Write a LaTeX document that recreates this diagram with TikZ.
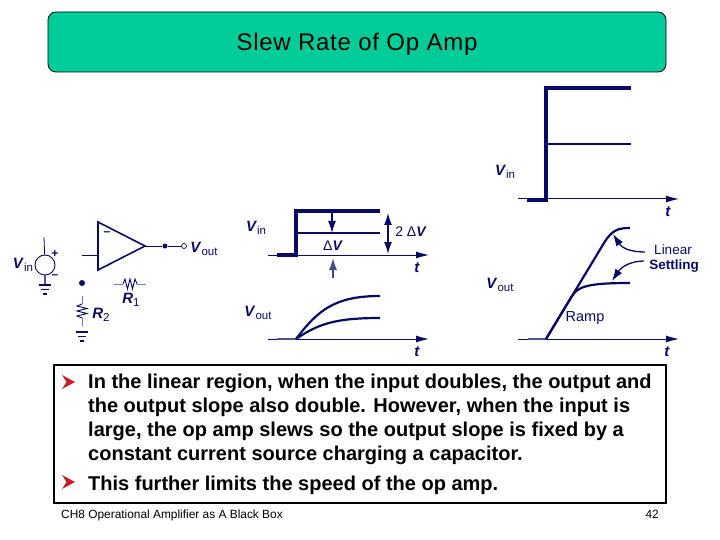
\documentclass[tikz,border=0pt]{standalone}
\usepackage{fontspec}
\setmainfont{Liberation Sans}
\usepackage{tikz}
\usetikzlibrary{arrows.meta, positioning, calc}
\definecolor{slidegreen}{RGB}{0,204,153}
\definecolor{inkblue}{RGB}{10,10,100}
\definecolor{bulletred}{RGB}{200,30,40}
\tikzset{
  wire/.style={inkblue, line width=0.8pt},
  thinwire/.style={inkblue!55, line width=0.7pt},
  wave/.style={inkblue, line width=2.6pt},
  curve/.style={inkblue, line width=2.2pt},
  heavy/.style={inkblue, line width=3.2pt},
  axis/.style={inkblue, line width=1pt, -{Latex[length=13pt,width=7pt]}},
  pointer/.style={inkblue, line width=1.3pt, -{Latex[length=12pt,width=8pt]}},
  dimline/.style={inkblue, line width=1.3pt, {Latex[length=12pt,width=8pt]}-{Latex[length=12pt,width=8pt]}},
  vlabel/.style={inkblue, font=\fontsize{15}{15}\selectfont\bfseries},
  txt/.style={inkblue, font=\fontsize{12}{12}\selectfont\bfseries},
  body/.style={anchor=base west, font=\fontsize{20}{24}\selectfont\bfseries, align=left, inner sep=0pt, text=black},
  dotnode/.style={circle, fill=inkblue, inner sep=0pt, minimum size=5pt},
  opendot/.style={circle, draw=inkblue, fill=white, line width=0.7pt, inner sep=0pt, minimum size=5pt},
  gbar/.style={inkblue, line width=1.6pt}
}
\newcommand{\vlab}[2]{\textit{#1}\raisebox{-3pt}{\fontsize{11.5}{12}\selectfont\mdseries #2}}
\newcommand{\gndmark}[1]{%
  \draw[gbar] ($(#1)+(-6,0)$) -- ($(#1)+(6,0)$);
  \draw[gbar] ($(#1)+(-4,4.5)$) -- ($(#1)+(4,4.5)$);
  \draw[gbar] ($(#1)+(-2,9)$) -- ($(#1)+(2,9)$);}
\newcommand{\bulletmark}[2]{%
  \fill[bulletred] ($(#1,#2)+(0,-7)$) -- ($(#1,#2)+(13,0)$) -- ($(#1,#2)+(0,7)$) -- ($(#1,#2)+(4.5,0)$) -- cycle;}
\begin{document}
\begin{tikzpicture}[x=1pt, y=-1pt]
  \useasboundingbox (0,0) rectangle (720,540);

  % title and text boxes
  \node[draw=black, fill=slidegreen, rounded corners=8pt, line width=0.8pt, minimum width=618pt, minimum height=60pt, inner sep=0pt] (title) at (357,42) {};
  \node[font=\fontsize{24}{26}\selectfont] (titletext) at (357,44) {\addfontfeature{LetterSpace=3}Slew Rate of Op Amp};
  \node[draw=black, line width=1.6pt, minimum width=612pt, minimum height=138pt, inner sep=0pt] (textbox) at (360,434) {};

  \bulletmark{62}{382}
  \node[body] (para) at (88,460) {In the linear region, when the input doubles, the output and\\the output slope also double.  However, when the input is\\large, the op amp slews so the output slope is fixed by a\\constant current source charging a capacitor.};
  \bulletmark{62}{482}
  \node[body] (last) at (88,490) {This further limits the speed of the op amp.};

  \node[anchor=base west, inner sep=0pt, font=\fontsize{11.9}{12}\selectfont] (foot) at (61,518) {CH8 Operational Amplifier as A Black Box};
  \node[anchor=base east, inner sep=0pt, font=\fontsize{11.9}{12}\selectfont] (page) at (659,518) {42};

  % op amp circuit
  \coordinate (ampa) at (98,222);
  \coordinate (ampb) at (98,270);
  \coordinate (ampc) at (145,246);
  \draw[inkblue, line width=1.6pt, line join=miter] (ampa) -- (ampc) -- (ampb) -- cycle;
  \node[txt] (minus) at (107,234) {--};
  \coordinate (inpin) at (98,255);
  \coordinate (instub) at (82,255);
  \draw[wire] (instub) -- (inpin);
  \node[dotnode] (outdot) at (165,246) {};
  \node[opendot] (outpin) at (184,246) {};
  \draw[wire] (ampc) -- (outdot) -- (outpin);
  \node[vlabel] (voutamp) at (204,249) {\vlab{V}{out}};

  \node[draw=inkblue, line width=0.9pt, circle, inner sep=0pt, minimum size=20pt] (src) at (45,265) {};
  \coordinate (srctop) at (44,237);
  \coordinate (srcgnd) at (45,285);
  \draw[wire] (srctop) -- (src);
  \draw[inkblue!70, line width=1.3pt] (src) -- (srcgnd);
  \gndmark{srcgnd}
  \node[txt] (plus) at (55,254) {+};
  \node[txt] (minusb) at (55,277) {--};
  \node[vlabel] (vinsrc) at (23,265) {\vlab{V}{in}};

  \node[dotnode, minimum size=6pt] (fbdot) at (82,283) {};
  \coordinate (rtwotop) at (82,296);
  \coordinate (rtwobot) at (82,331);
  \draw[thinwire] (rtwotop) -- (82,304);
  \draw[inkblue, line width=0.9pt] (82,304) -- (77,306) -- (87,308.5) -- (77,311) -- (87,313.5) -- (77,316) -- (82,318);
  \draw[thinwire] (82,318) -- (82,326);
  \coordinate (rtwognd) at (82,332);
  \gndmark{rtwognd}
  \node[vlabel] (rtwo) at (101,315) {\vlab{R}{2}};

  \coordinate (ronel) at (114,284);
  \coordinate (roner) at (146,284);
  \draw[thinwire] (ronel) -- (123,284);
  \draw[inkblue, line width=0.9pt] (123,284) -- (125,279) -- (127.5,289) -- (130,279) -- (132.5,289) -- (135,279) -- (137,284);
  \draw[thinwire] (137,284) -- (roner);
  \node[vlabel] (rone) at (131,300) {\vlab{R}{1}};

  % small input step
  \coordinate (axa) at (268,255);
  \coordinate (axb) at (429,255);
  \draw[axis] (axa) -- (axb);
  \draw[heavy, line join=miter] (277,255) -- (296,255) -- (296,211) -- (380,211);
  \draw[wave] (296,233) -- (380,233);
  \draw[pointer] (332,211) -- (332,233);
  \draw[pointer, inkblue!75] (333,278) -- (333,258);
  \draw[dimline] (388,213) -- (388,254);
  \node[vlabel] (vina) at (256,228) {\vlab{V}{in}};
  \node[txt, font=\fontsize{14}{14}\selectfont] (dv) at (333,246) {Δ\textit{\textbf{V}}};
  \node[txt, font=\fontsize{14}{14}\selectfont] (twodv) at (411,232) {2 Δ\textit{\textbf{V}}};
  \node[vlabel] (ta) at (417,268) {\textit{t}};

  % small output response
  \coordinate (axc) at (268,339);
  \coordinate (axd) at (429,339);
  \draw[axis] (axc) -- (axd);
  \draw[inkblue!70, line width=1.6pt] (277,339) -- (296,339);
  \draw[curve] (296,339) .. controls (318,310) and (335,296) .. (380,296);
  \draw[curve] (296,339) .. controls (318,324) and (335,318) .. (380,318);
  \node[vlabel] (vouta) at (258,313) {\vlab{V}{out}};
  \node[vlabel] (tb) at (417,352) {\textit{t}};

  % large input step
  \coordinate (axe) at (518,199);
  \coordinate (axf) at (679,199);
  \draw[axis] (axe) -- (axf);
  \draw[heavy, line join=miter] (527,200) -- (546,200) -- (546,88) -- (631,88);
  \draw[wave] (546,144) -- (631,144);
  \node[vlabel] (vinb) at (505,172) {\vlab{V}{in}};
  \node[vlabel] (tc) at (668,212) {\textit{t}};

  % large output response
  \coordinate (axg) at (518,339);
  \coordinate (axh) at (679,339);
  \draw[axis] (axg) -- (axh);
  \draw[inkblue!70, line width=1.6pt] (528,339) -- (546,339);
  \draw[curve] (546,339) -- (604,243) .. controls (612,230) and (618,228) .. (630,228);
  \draw[curve] (546,339) -- (572,296) .. controls (578,286) and (590,283) .. (630,283);
  \node[vlabel] (voutb) at (500,285) {\vlab{V}{out}};
  \node[vlabel] (td) at (667,352) {\textit{t}};
  \node[txt, font=\fontsize{14.5}{15}\selectfont] (ramp) at (585,318) {Ramp};
  \node[txt, font=\fontsize{13.5}{14}\selectfont] (linear) at (673,250) {Linear};
  \node[txt, font=\fontsize{13.5}{14}\selectfont\bfseries] (settling) at (674,266) {Settling};
  \coordinate (linptr) at (613,234);
  \coordinate (setptr) at (612,281);
  \draw[pointer] (645,252) .. controls (630,252) and (622,248) .. (linptr);
  \draw[pointer] (644,261) .. controls (632,261) and (622,266) .. (setptr);
\end{tikzpicture}
\end{document}
